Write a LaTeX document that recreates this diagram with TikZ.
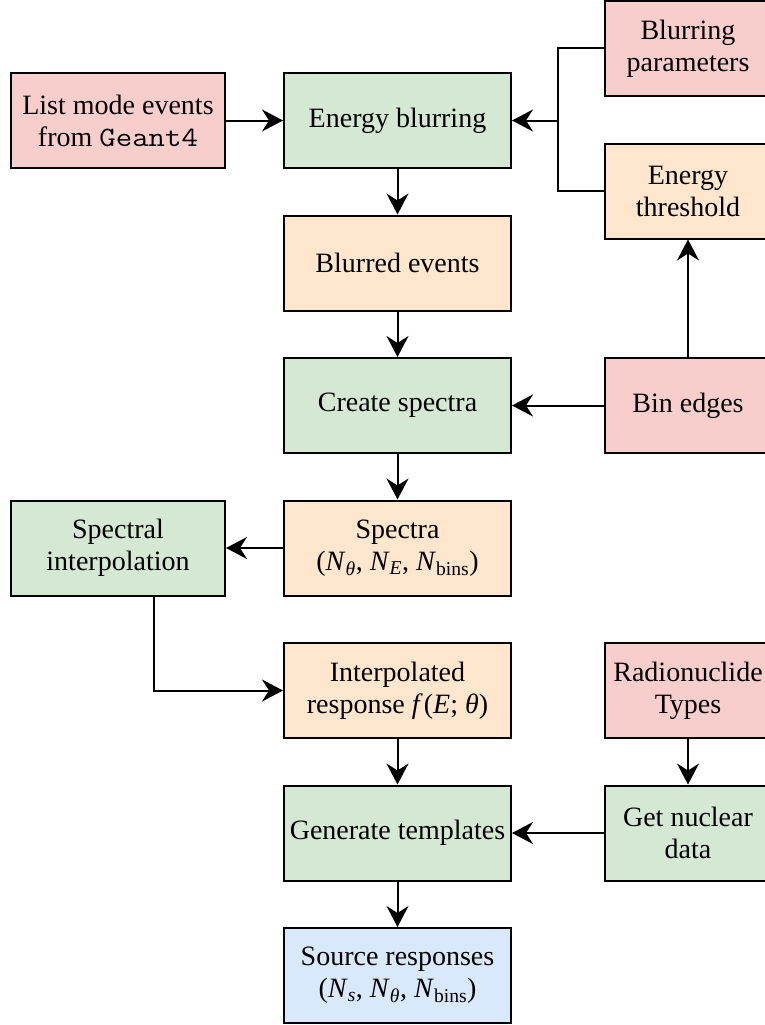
\documentclass[tikz,border=0pt]{standalone}
\usepackage{fontspec}
\setmainfont{Liberation Serif}
\usetikzlibrary{arrows.meta,calc}
\definecolor{cpink}{HTML}{F8CECC}
\definecolor{cgreen}{HTML}{D5E8D4}
\definecolor{corange}{HTML}{FFE6CC}
\definecolor{cblue}{HTML}{DAE8FC}
\newcommand\Nsub[1]{\textit{N}\textsubscript{#1}}
\begin{document}
\begin{tikzpicture}[x=1pt,y=-1pt,
  box/.style={draw=black, line width=2pt, minimum height=95pt, align=center,
    inner sep=0pt, font=\fontsize{28}{32}\selectfont},
  lbox/.style={box, minimum width=214pt},
  mbox/.style={box, minimum width=227pt},
  rbox/.style={box, minimum width=166pt},
  pink/.style={fill=cpink}, green/.style={fill=cgreen},
  orange/.style={fill=corange}, blue/.style={fill=cblue},
  arr/.style={-{Stealth[length=21pt,width=22pt,inset=7pt]}, line width=2pt},
  ln/.style={line width=2pt}]
\useasboundingbox (0,0) rectangle (765,1025);
% left column
\node[lbox,pink] (lm) at (118,120.5) {List mode events\\from \scalebox{1.14}[1]{\ttfamily Geant4}};
\node[lbox,green] (si) at (118,548) {Spectral\\interpolation};
% middle column
\node[mbox,green] (eb) at (397.5,120.5) {Energy blurring};
\node[mbox,orange] (be) at (397.5,263) {Blurred events};
\node[mbox,green] (cs) at (397.5,405.5) {Create spectra};
\node[mbox,orange] (sp) at (397.5,548) {Spectra\\(\Nsub{\textit{θ}}, \Nsub{\textit{E}}, \Nsub{bins})};
\node[mbox,orange] (ir) at (397.5,690.5) {Interpolated\\response \textit{f}\kern1pt(\textit{E}; \textit{θ})};
\node[mbox,green] (gt) at (397.5,833) {Generate templates};
\node[mbox,blue] (sr) at (397.5,975.5) {Source responses\\(\Nsub{\textit{s}}, \Nsub{\textit{θ}}, \Nsub{bins})};
% right column
\node[rbox,pink] (bp) at (688,48.5) {Blurring\\parameters};
\node[rbox,orange] (et) at (688,191) {Energy\\threshold};
\node[rbox,pink] (bn) at (688,405.5) {Bin edges};
\node[rbox,pink] (rt) at (688,690.5) {Radionuclide\\Types};
\node[rbox,green] (gn) at (688,833) {Get nuclear\\data};
% junction coordinates
\coordinate (j) at (557.5,120.5);
\coordinate (k) at (154,596);
% connectors
\draw[arr] (lm) -- (eb);
\draw[ln] (bp.west) -| (j);
\draw[ln] (et.west) -| (j);
\draw[arr] (j) -- (eb.east);
\draw[arr] (eb) -- (be);
\draw[arr] (be) -- (cs);
\draw[arr] (bn) -- (cs);
\draw[arr] (bn) -- (et);
\draw[arr] (cs) -- (sp);
\draw[arr] (sp) -- (si);
\draw[arr] (k) |- (ir.west);
\draw[arr] (ir) -- (gt);
\draw[arr] (rt) -- (gn);
\draw[arr] (gn) -- (gt);
\draw[arr] (gt) -- (sr);
\end{tikzpicture}
\end{document}
